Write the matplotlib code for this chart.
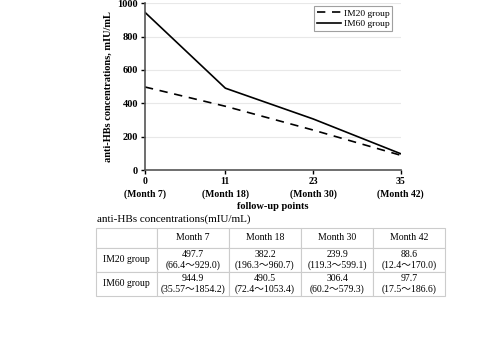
import matplotlib.pyplot as plt

plt.rcParams["font.family"] = ["Liberation Serif", "Noto Sans CJK SC", "DejaVu Serif"]

# follow-up points (months after first dose) and group medians
x_pos = [0, 11, 23, 35]
x_labels = ["0\n(Month 7)", "11\n(Month 18)", "23\n(Month 30)", "35\n(Month 42)"]
months = ["Month 7", "Month 18", "Month 30", "Month 42"]
im20 = [497.7, 382.2, 239.9, 88.6]
im60 = [944.9, 490.5, 306.4, 97.7]
im20_range = ["66.4～929.0", "196.3～960.7", "119.3～599.1", "12.4～170.0"]
im60_range = ["35.57～1854.2", "72.4～1053.4", "60.2～579.3", "17.5～186.6"]
groups = ["IM20 group", "IM60 group"]

fig = plt.figure(figsize=(4.93, 3.45), dpi=100)
ax = fig.add_axes([0.294, 0.507, 0.519, 0.484])

ax.plot(x_pos, im20, color="black", linestyle=(0, (5, 4)), linewidth=1.2, label="IM20 group")
ax.plot(x_pos, im60, color="black", linestyle="-", linewidth=1.2, label="IM60 group")

ax.set_xlim(0, 35)
ax.set_ylim(0, 1000)
ax.set_xticks(x_pos)
ax.set_xticklabels(x_labels, fontsize=7, fontweight="bold", linespacing=1.5)
ax.set_yticks(range(0, 1001, 200))
ax.tick_params(axis="y", labelsize=7.5, length=3, width=1, pad=2)
ax.tick_params(axis="x", length=3, width=1, pad=2)
for lbl in ax.get_yticklabels():
    lbl.set_fontweight("bold")
ax.grid(axis="y", color="#e8e8e8", linewidth=0.8)
ax.set_axisbelow(True)
for side in ["top", "right"]:
    ax.spines[side].set_visible(False)
for side in ["left", "bottom"]:
    ax.spines[side].set_color("#555555")
    ax.spines[side].set_linewidth(1.2)

ax.set_ylabel("anti-HBs concentrations, mIU/mL", fontsize=7.5, fontweight="bold", labelpad=3)
ax.set_xlabel("follow-up points", fontsize=7.5, fontweight="bold", labelpad=2)

leg = ax.legend(loc="upper right", bbox_to_anchor=(0.985, 1.01), fontsize=6.8,
                frameon=True, fancybox=False, handlelength=2.5, borderpad=0.3,
                labelspacing=0.2, handletextpad=0.3)
leg.get_frame().set_edgecolor("#888888")
leg.get_frame().set_linewidth(0.8)

# summary table below the chart
fig.text(0.197, 0.352, "anti-HBs concentrations(mIU/mL)", fontsize=8, va="bottom", ha="left")

rows = [[""] + months]
for name, vals, rngs in zip(groups, [im20, im60], [im20_range, im60_range]):
    rows.append([name] + [f"{v:.1f}\n({r})" for v, r in zip(vals, rngs)])

tab = fig.add_axes([0.195, 0.142, 0.708, 0.197])
tab.axis("off")
col_w = [0.173, 0.207, 0.207, 0.207, 0.206]
t = tab.table(cellText=rows, colWidths=col_w, cellLoc="center", bbox=[0, 0, 1, 1])
t.auto_set_font_size(False)
for (r, c), cell in t.get_celld().items():
    cell.set_edgecolor("#cccccc")
    cell.set_linewidth(0.8)
    cell.get_text().set_fontsize(7)
    cell.get_text().set_linespacing(1.15)
    cell.get_text().set_family(["Liberation Serif", "Noto Sans CJK SC", "DejaVu Serif"])
    if r == 0:
        cell.set_height(0.29)
    else:
        cell.set_height(0.355)

fig.savefig("out.png", dpi=100)
